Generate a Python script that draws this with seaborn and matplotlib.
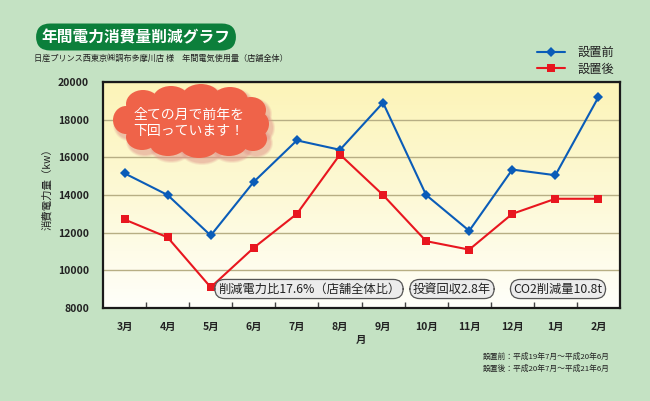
import numpy as np
import pandas as pd
import matplotlib
matplotlib.use("Agg")
import matplotlib.pyplot as plt
from matplotlib.patches import Ellipse
from matplotlib.lines import Line2D
from matplotlib.colors import LinearSegmentedColormap
import seaborn as sns

months = ["3月", "4月", "5月", "6月", "7月", "8月", "9月", "10月", "11月", "12月", "1月", "2月"]
before = [15150, 14000, 11850, 14700, 16900, 16400, 18900, 14000, 12100, 15350, 15050, 19200]
after = [12700, 11750, 9100, 11200, 13000, 16150, 14000, 11550, 11100, 13000, 13800, 13800]
series_names = ["設置前", "設置後"]
yticks = [8000, 10000, 12000, 14000, 16000, 18000, 20000]

title = "年間電力消費量削減グラフ"
subtitle = "日産プリンス西東京㈱調布多摩川店 様　年間電気使用量（店舗全体）"
ylabel = "消費電力量（kw）"
xlabel = "月"
cloud_text = "全ての月で前年を\n下回っています！"
badges = ["削減電力比17.6%（店舗全体比）", "投資回収2.8年", "CO2削減量10.8t"]
notes = ["設置前：平成19年7月～平成20年6月", "設置後：平成20年7月～平成21年6月"]

df = pd.DataFrame({
    "月": months * 2,
    "value": before + after,
    "series": [series_names[0]] * len(months) + [series_names[1]] * len(months),
})

sns.set_theme(style="white")
plt.rcParams["font.family"] = ["Noto Sans CJK JP", "DejaVu Sans"]

W, H = 650, 401
BG = "#c4e2c3"
fig = plt.figure(figsize=(W / 100, H / 100), dpi=100, facecolor=BG)

def fx(x):
    return x / W

def fy(y):
    return 1 - y / H

ax = fig.add_axes([fx(103), fy(308), fx(620) - fx(103), fy(82) - fy(308)])

# gradient background
grad = np.linspace(0, 1, 256).reshape(-1, 1)
cmap = LinearSegmentedColormap.from_list("g", ["#fffffa", "#fdf9d6", "#fcf4b8"])
ax.imshow(grad, cmap=cmap, aspect="auto", extent=[0, 1, 0, 1], origin="lower",
          transform=ax.transAxes, zorder=0)

palette = {"設置前": "#0a5cb8", "設置後": "#e8161f"}
sns.lineplot(data=df, x="月", y="value", hue="series", style="series",
             markers={"設置前": "D", "設置後": "s"}, dashes=False, sort=False,
             palette=palette, linewidth=1.5, markersize=5.5, markeredgewidth=0,
             ax=ax, legend=False, zorder=3)

ax.set_xlim(-0.5, len(months) - 0.5)
ax.set_ylim(8000, 20000)
ax.set_yticks(yticks)
ax.set_yticklabels([str(v) for v in yticks], fontsize=7.5, fontweight="bold", color="#222")
ax.set_xticks(range(len(months)))
ax.set_xticklabels(months, fontsize=7.5, fontweight="bold", color="#222")
ax.set_xticks(np.arange(0.5, len(months) - 1, 1), minor=True)
ax.tick_params(axis="x", which="major", length=0, pad=10)
ax.tick_params(axis="x", which="minor", direction="in", length=4, color="#444", bottom=True)
ax.tick_params(axis="y", which="major", length=0, pad=10)
ax.grid(axis="y", color="#b7ae84", linewidth=1.0, zorder=1)
ax.set_axisbelow(True)
for s in ax.spines.values():
    s.set_color("#1a1a1a")
    s.set_linewidth(1.6)
ax.set_xlabel("")
ax.set_ylabel("")

fig.text(fx(47), fy(187), ylabel, rotation=90, ha="center", va="center",
         fontsize=7.5, color="#222")
fig.text(fx(361), fy(340), xlabel, ha="center", va="center",
         fontsize=7.5, fontweight="bold", color="#222")

# title badge
fig.text(fx(136), fy(37), title, ha="center", va="center", fontsize=11.3,
         fontweight="bold", color="white",
         bbox=dict(boxstyle="round,pad=0.35,rounding_size=0.9", fc="#0c7f3b", ec="none"))
fig.text(fx(34), fy(58), subtitle, ha="left", va="center", fontsize=5.9, color="#222")

# legend
handles = [Line2D([], [], color=palette[n], marker=m, markersize=5.5, linewidth=1.5,
                  markeredgewidth=0) for n, m in zip(series_names, ["D", "s"])]
fig.legend(handles, series_names, loc="upper left",
           bbox_to_anchor=(fx(537), fy(46)), bbox_transform=fig.transFigure,
           frameon=False, fontsize=8.8, handlelength=2.25, handletextpad=1.1,
           labelspacing=0.3, borderpad=0, borderaxespad=0, labelcolor="#222")

# cloud callout
lobes = [(191, 122, 136, 50),
         (143, 104, 34, 28), (171, 99, 36, 26), (201, 97, 38, 26), (230, 100, 36, 26),
         (251, 110, 30, 26), (259, 124, 20, 24), (253, 139, 28, 24), (229, 144, 36, 24),
         (199, 146, 38, 24), (168, 144, 36, 24), (142, 137, 32, 26), (126, 120, 26, 28)]
for k, a in [(6, 0.18), (4, 0.25), (2, 0.3)]:
    for (cx, cy, w, h) in lobes:
        fig.add_artist(Ellipse((fx(cx + 3), fy(cy + 4)), (w + k) / W, (h + k) / H,
                               transform=fig.transFigure, fc="#e39a8f", ec="none",
                               alpha=a, zorder=5))
for (cx, cy, w, h) in lobes:
    fig.add_artist(Ellipse((fx(cx), fy(cy)), w / W, h / H, transform=fig.transFigure,
                           fc="#ef6349", ec="none", zorder=6))
fig.text(fx(189), fy(123), cloud_text, ha="center", va="center", fontsize=10,
         color="white", linespacing=1.15, zorder=7)

# badges
badge_x = [309, 452, 558]
for t, bx in zip(badges, badge_x):
    fig.text(fx(bx), fy(289), t, ha="center", va="center", fontsize=8.8, color="#222",
             zorder=8,
             bbox=dict(boxstyle="round,pad=0.25,rounding_size=0.8", fc="#ececec",
                       ec="#555555", lw=0.9))

# notes
for i, n in enumerate(notes):
    fig.text(fx(483), fy(357 + 12 * i), n, ha="left", va="center", fontsize=5.6, color="#222")

fig.savefig("out.png", dpi=100, facecolor=BG)
